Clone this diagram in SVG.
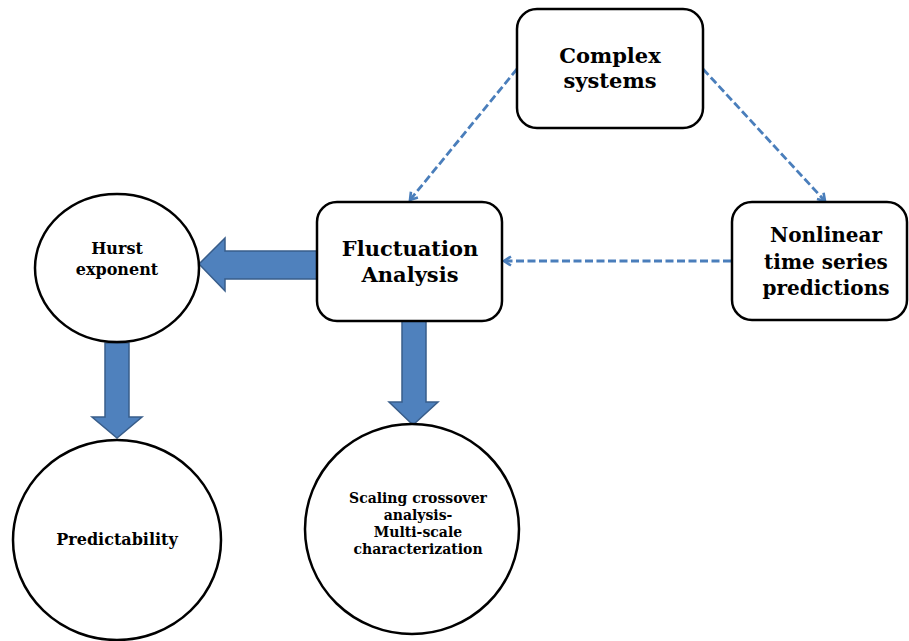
<svg xmlns="http://www.w3.org/2000/svg" width="909" height="641" viewBox="0 0 909 641">
<style>
.box{fill:#fff;stroke:#000;stroke-width:2.5}
.t{font-family:"DejaVu Serif","Liberation Serif",serif;font-weight:bold;fill:#000;text-anchor:middle}
.dash{fill:none;stroke:#4a7ebb;stroke-width:2.8;stroke-dasharray:8,3.5}
.blk{fill:#4f81bd;stroke:#385d8a;stroke-width:1.5}
</style>
<defs>
<marker id="ah" markerWidth="12" markerHeight="12" refX="9" refY="6" orient="auto" markerUnits="userSpaceOnUse" viewBox="0 0 12 12">
<path d="M2,1.5 L9,6 L2,10.5" fill="none" stroke="#4a7ebb" stroke-width="2.6"/>
</marker>
</defs>
<g id="connectors">
<line class="dash" x1="517" y1="69" x2="410" y2="200" marker-end="url(#ah)"/>
<line class="dash" x1="703" y1="69" x2="825" y2="201" marker-end="url(#ah)"/>
<line class="dash" x1="731" y1="261" x2="504" y2="261" marker-end="url(#ah)"/>
<path class="blk" d="M317,251 L225,251 L225,238 L199,264 L225,291 L225,279 L317,279 Z"/>
<path class="blk" d="M105,343 L105,417 L92,417 L117,438 L142,417 L129,417 L129,343 Z"/>
<path class="blk" d="M402,321 L402,402 L389,402 L413,425 L438,402 L426,402 L426,321 Z"/>
</g>
<g id="complex">
<rect class="box" x="517" y="9" width="186" height="119" rx="20"/>
<text class="t" x="610" y="63" font-size="21">Complex</text>
<text class="t" x="610" y="88" font-size="21">systems</text>
</g>
<g id="nonlinear">
<rect class="box" x="732" y="202" width="175" height="118" rx="20"/>
<text class="t" x="826" y="242" font-size="20">Nonlinear</text>
<text class="t" x="826" y="269" font-size="20">time series</text>
<text class="t" x="826" y="295" font-size="20">predictions</text>
</g>
<g id="fluctuation">
<rect class="box" x="317" y="202" width="185" height="119" rx="20"/>
<text class="t" x="410" y="256" font-size="21">Fluctuation</text>
<text class="t" x="410" y="282" font-size="21">Analysis</text>
</g>
<g id="hurst">
<ellipse class="box" cx="117" cy="268" rx="82" ry="74"/>
<text class="t" x="117" y="254" font-size="16">Hurst</text>
<text class="t" x="117" y="275" font-size="16">exponent</text>
</g>
<g id="predictability">
<ellipse class="box" cx="117" cy="540" rx="104" ry="100"/>
<text class="t" x="117" y="545" font-size="16">Predictability</text>
</g>
<g id="scaling">
<ellipse class="box" cx="412" cy="529" rx="107" ry="105"/>
<text class="t" x="418" y="503" font-size="14">Scaling crossover</text>
<text class="t" x="418" y="520" font-size="14">analysis-</text>
<text class="t" x="418" y="537" font-size="14">Multi-scale</text>
<text class="t" x="418" y="554" font-size="14">characterization</text>
</g>
</svg>
